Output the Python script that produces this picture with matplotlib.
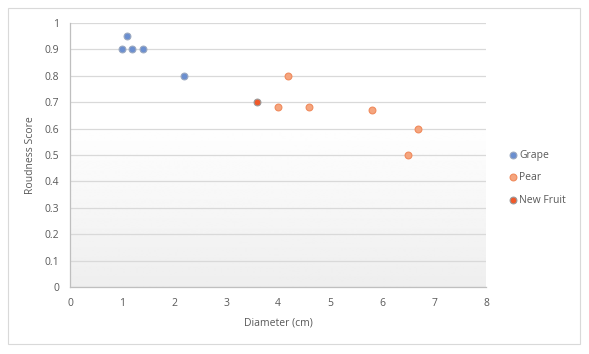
import numpy as np
import matplotlib.pyplot as plt
from matplotlib.patches import Rectangle

# data
grape_x = [1.0, 1.1, 1.2, 1.4, 2.2]
grape_y = [0.90, 0.95, 0.90, 0.90, 0.80]
pear_x = [4.2, 4.0, 4.6, 5.8, 6.7, 6.5]
pear_y = [0.80, 0.68, 0.68, 0.67, 0.60, 0.50]
new_x = [3.6]
new_y = [0.70]
x_ticks = [0, 1, 2, 3, 4, 5, 6, 7, 8]
y_ticks = [0, 0.1, 0.2, 0.3, 0.4, 0.5, 0.6, 0.7, 0.8, 0.9, 1]

plt.rcParams['font.family'] = ['Open Sans', 'DejaVu Sans']

fig = plt.figure(figsize=(5.89, 3.54), dpi=100)
ax = fig.add_axes([70 / 589, 1 - 287 / 354, 416 / 589, 264 / 354])

# outer chart border
fig.patches.append(Rectangle((8 / 589, 1 - 344 / 354), 572 / 589, 336 / 354,
                             transform=fig.transFigure, fill=False,
                             edgecolor='#d9d9d9', linewidth=0.8))

# plot area gradient, white on top to light grey at bottom
grad = np.linspace(0.0, 1.0, 256).reshape(-1, 1)
grad = np.clip(grad * 1.6, 0, 1)
ax.imshow(grad, extent=[0, 8, 0, 1], aspect='auto', cmap='gray',
          vmin=-14, vmax=1, origin='lower', zorder=0, interpolation='bilinear')

ax.set_xlim(0, 8)
ax.set_ylim(0, 1)
ax.set_xticks(x_ticks)
ax.set_yticks(y_ticks)
ax.set_xticklabels([str(t) for t in x_ticks])
ax.set_yticklabels([f'{t:g}' for t in y_ticks])
ax.yaxis.grid(True, color='#d9d9d9', linewidth=0.9, zorder=1)
ax.set_axisbelow(True)
ax.tick_params(length=0, labelsize=7.5, colors='#595959', pad=8)
for side in ['top', 'right']:
    ax.spines[side].set_visible(False)
for side in ['left', 'bottom']:
    ax.spines[side].set_color('#bfbfbf')
    ax.spines[side].set_linewidth(0.9)

ax.scatter(grape_x, grape_y, s=24, color='#6b8fd0', edgecolor='#9aa8c0',
           linewidth=0.8, zorder=3, label='Grape')
ax.scatter(pear_x, pear_y, s=24, color='#f5a57e', edgecolor='#f08a5c',
           linewidth=0.8, zorder=3, label='Pear')
ax.scatter(new_x, new_y, s=24, color='#f0592a', edgecolor='#9a9a9a',
           linewidth=0.8, zorder=3, label='New Fruit')

ax.set_xlabel('Diameter (cm)', fontsize=7.5, color='#595959', labelpad=6)
ax.set_ylabel('Roudness Score', fontsize=7.5, color='#595959', labelpad=6)

leg = ax.legend(loc='upper left', bbox_to_anchor=(1.04, 0.54), frameon=False,
                fontsize=7.5, handletextpad=0.1, labelspacing=1.1,
                handlelength=1.0, borderpad=0)
for t in leg.get_texts():
    t.set_color('#595959')

fig.savefig('out.png', dpi=100)
